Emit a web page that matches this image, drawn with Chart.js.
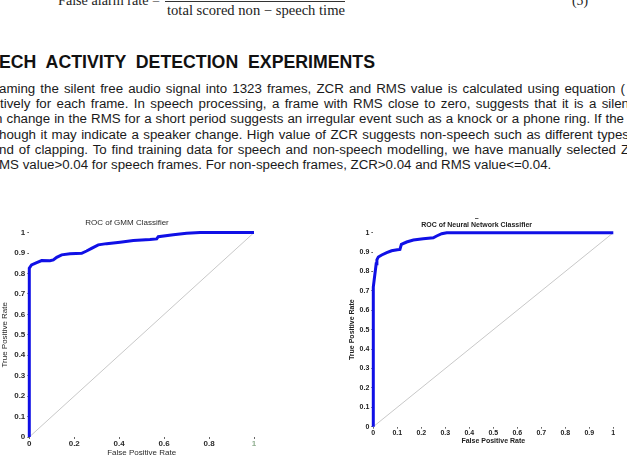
<!DOCTYPE html>
<html>
<head>
<meta charset="utf-8">
<script src="https://cdn.jsdelivr.net/npm/chart.js@4.4.1/dist/chart.umd.min.js"></script>
<style>
html,body{margin:0;padding:0;background:#fff;}
body{width:627px;height:474px;overflow:hidden;position:relative;}
#page{position:absolute;left:0;top:0;}
.box{position:absolute;}
</style>
</head>
<body>
<svg id="page" width="627" height="474" xmlns="http://www.w3.org/2000/svg">
  <g font-family="Liberation Serif, serif" font-size="14.7" fill="#222">
    <text x="58" y="5" textLength="102" lengthAdjust="spacingAndGlyphs">False alarm rate =</text>
    <line x1="165" y1="1.5" x2="345" y2="1.5" stroke="#333" stroke-width="1"/>
    <text x="167" y="15" textLength="178" lengthAdjust="spacingAndGlyphs">total scored non − speech time</text>
    <text x="572" y="5" textLength="16" lengthAdjust="spacingAndGlyphs">(5)</text>
  </g>
  <text x="-1" y="67.7" font-family="Liberation Sans, Arial, sans-serif" font-weight="bold" font-size="18.7" fill="#111"
        textLength="376" lengthAdjust="spacingAndGlyphs" style="white-space:pre">ECH  ACTIVITY  DETECTION  EXPERIMENTS</text>
  <g id="para" font-family="Liberation Sans, Arial, sans-serif" font-size="13.5" fill="#1a1a1a">
    <text x="-1" y="93">aming the silent free audio signal into 1323 frames, ZCR and RMS value is calculated using equation (</text>
    <text x="0" y="108.2">tively for each frame. In speech processing, a frame with RMS close to zero, suggests that it is a silen</text>
    <text x="-5" y="123.4">n change in the RMS for a short period suggests an irregular event such as a knock or a phone ring. If the</text>
    <text x="-1" y="138.6">hough it may indicate a speaker change. High value of ZCR suggests non-speech such as different types</text>
    <text x="-1" y="153.8">nd of clapping. To find training data for speech and non-speech modelling, we have manually selected ZCR</text>
    <text x="-1" y="169">MS value&gt;0.04 for speech frames. For non-speech frames, ZCR&gt;0.04 and RMS value&lt;=0.04.</text>
  </g>
</svg>
<div class="box" style="left:0;top:205px;width:275px;height:260px"><canvas id="gmmChart"></canvas></div>
<div class="box" style="left:340px;top:205px;width:287px;height:255px"><canvas id="nnChart"></canvas></div>
<script>
// ROC points
const gmmFpr = [0, 0, 0.010, 0.033, 0.055, 0.092, 0.107, 0.122, 0.144, 0.181, 0.233, 0.255, 0.277, 0.307, 0.344, 0.404, 0.463, 0.537, 0.567, 0.574, 0.641, 0.700, 0.760, 1];
const gmmTpr = [0, 0.826, 0.842, 0.853, 0.863, 0.862, 0.866, 0.879, 0.891, 0.896, 0.899, 0.910, 0.923, 0.940, 0.946, 0.953, 0.961, 0.966, 0.969, 0.980, 0.989, 0.997, 1, 1];
const nnFpr = [0, 0, 0.004, 0.008, 0.012, 0.015, 0.021, 0.035, 0.056, 0.076, 0.100, 0.111, 0.117, 0.139, 0.167, 0.208, 0.250, 0.264, 0.285, 0.306, 1];
const nnTpr = [0, 0.72, 0.76, 0.80, 0.84, 0.86, 0.875, 0.885, 0.897, 0.907, 0.912, 0.914, 0.940, 0.952, 0.962, 0.969, 0.974, 0.983, 0.995, 1, 1];
const chanceLine = [0, 1];

const gmmTitle = 'ROC of GMM Classifier';
const nnTitle = ['\u2013', 'ROC of Neural Network Classifier'];
const xTitle = 'False Positive Rate';
const yTitle = 'True Positive Rate';

// justified paragraph: last line sets the glyph scale, the others get word spacing
const paraFit = [
    ['equation (', 625],
    ['a silen', 629],
    ['If the', 624],
    ['different types', 629],
    ['selected Z', 629]
];
const lines = document.querySelectorAll('#para text');
const last = lines[lines.length - 1];
const sx = (552 + 1) / last.getComputedTextLength();
document.getElementById('para').setAttribute('transform', 'scale(' + sx + ',1)');
paraFit.forEach((f, i) => {
    const el = lines[i];
    const n = el.textContent.indexOf(f[0]) + f[0].length;
    const pre = el.textContent.slice(0, n);
    const w = el.getSubStringLength(0, n);
    const x0 = +el.getAttribute('x');
    const spaces = pre.split(' ').length - 1;
    const ws = (f[1] / sx - x0 - w) / spaces;
    el.setAttribute('word-spacing', ws);
});

Chart.defaults.font.family = 'Liberation Sans, Arial, sans-serif';
Chart.defaults.animation = false;

const toPts = (xs, ys) => xs.map((x, i) => ({x: x, y: ys[i]}));
const fmt = v => String(+Number(v).toFixed(2));

function rocChart(id, fpr, tpr, o) {
    return new Chart(document.getElementById(id), {
        type: 'scatter',
        data: {
            datasets: [
                {
                    data: toPts(fpr, tpr),
                    showLine: true,
                    borderColor: '#1010e6',
                    borderWidth: 3,
                    pointRadius: 0,
                    clip: 5,
                    order: 1
                },
                {
                    data: toPts(chanceLine, chanceLine),
                    showLine: true,
                    borderColor: '#c8c8c8',
                    borderWidth: 1,
                    pointRadius: 0,
                    order: 2
                }
            ]
        },
        options: {
            responsive: true,
            maintainAspectRatio: false,
            layout: {padding: {left: 0, right: o.padRight, top: 0, bottom: 0}},
            plugins: {
                legend: {display: false},
                tooltip: {enabled: false},
                title: {
                    display: true,
                    text: o.title,
                    color: o.color,
                    font: {size: o.titleSize, weight: o.titleWeight, lineHeight: o.titleLH},
                    padding: o.titlePad
                }
            },
            scales: {
                x: {
                    type: 'linear', min: 0, max: 1,
                    border: {display: false},
                    grid: {drawOnChartArea: false, tickLength: 2, color: '#666'},
                    ticks: {stepSize: o.xStep, padding: 0, maxRotation: 0, autoSkip: false, callback: fmt,
                        color: o.xTickColor, font: {size: o.tickSize, weight: 'bold'}},
                    title: {display: true, text: xTitle, color: o.color,
                        font: {size: o.tickSize, weight: o.titleWeight}, padding: {top: 0, bottom: o.xTitleBottom}},
                    afterFit: s => { s.height = o.xHeight; }
                },
                y: {
                    type: 'linear', min: 0, max: 1,
                    border: {display: false},
                    grid: {drawOnChartArea: false, tickLength: 2, color: '#666'},
                    ticks: {stepSize: 0.1, padding: 2, autoSkip: false, callback: fmt, color: o.color,
                        font: {size: o.tickSize, weight: 'bold'}},
                    title: {display: true, text: yTitle, color: o.color,
                        font: {size: o.tickSize, weight: o.titleWeight}, padding: {top: o.yTitleTop, bottom: 0}},
                    afterFit: s => { s.width = o.yWidth; }
                }
            }
        }
    });
}

rocChart('gmmChart', gmmFpr, gmmTpr, {
    title: gmmTitle, color: '#2a2a2a', titleWeight: 'normal', titleSize: 8, titleLH: 1.2,
    titlePad: {top: 13, bottom: 5}, padRight: 21, xStep: 0.2, tickSize: 8,
    xTickColor: c => c.tick && c.tick.value === 1 ? '#8fae8f' : '#2a2a2a',
    xTitleBottom: 7.2, xHeight: 28, yTitleTop: 0.2, yWidth: 29.3
});

rocChart('nnChart', nnFpr, nnTpr, {
    title: nnTitle, color: '#222', titleWeight: 'bold', titleSize: 7, titleLH: 1.0,
    titlePad: {top: 9.5, bottom: 4.2}, padRight: 13.7, xStep: 0.1, tickSize: 7,
    xTickColor: '#222',
    xTitleBottom: 15.1, xHeight: 33.3, yTitleTop: 7.5, yWidth: 33.3
});
</script>
</body>
</html>
